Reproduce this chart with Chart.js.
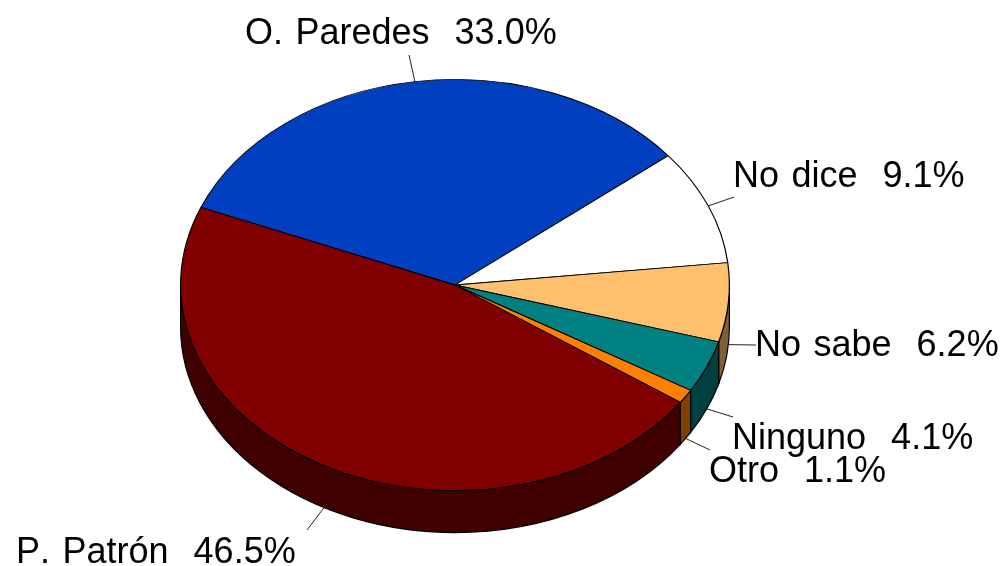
<!DOCTYPE html>
<html>
<head>
<meta charset="utf-8">
<title>Pie</title>
<script src="https://cdn.jsdelivr.net/npm/chart.js@4"></script>
<style>
  html, body { margin: 0; padding: 0; background: #fff; }
  canvas { display: block; }
</style>
</head>
<body>
<canvas id="pie" width="1004" height="566"></canvas>
<script>
// values, clockwise from the blue slice
var categories = ['O. Paredes', 'No dice', 'No sabe', 'Ninguno', 'Otro', 'P. Patrón'];
var shares = [33.0, 9.1, 6.2, 4.1, 1.1, 46.5];
var topColors = ['#0040c0', '#ffffff', '#ffc06e', '#008080', '#ff8000', '#800000'];
var wallColors = ['#002060', '#808080', '#806037', '#004040', '#804000', '#400000'];

// label layout: end of leader and text anchor (left, baseline), in page pixels
var leaderEnds = [[409, 55], [734, 197], [756, 345], [733, 417], [710, 450], [307, 530]];
var textAnchors = [[245, 44], [733, 187], [755, 356], [732, 449], [709, 482], [16, 563]];

var SQUASH = 0.749;  // ellipse height / width
var DEPTH = 42;      // wall height

// walls under the top face, only the front half of the pie shows them
var wallsPlugin = {
  id: 'walls',
  beforeDatasetsDraw: function (chart) {
    var ctx = chart.ctx;
    chart.getDatasetMeta(0).data.forEach(function (arc, i) {
      var a0 = Math.max(arc.startAngle, 0);
      var a1 = Math.min(arc.endAngle, Math.PI);
      if (a1 <= a0) return;
      var r = arc.outerRadius;
      ctx.beginPath();
      ctx.ellipse(arc.x, arc.y, r, r * SQUASH, 0, a0, a1);
      ctx.ellipse(arc.x, arc.y + DEPTH, r, r * SQUASH, 0, a1, a0, true);
      ctx.closePath();
      ctx.fillStyle = wallColors[i];
      ctx.fill();
      ctx.lineWidth = 1.2;
      ctx.strokeStyle = '#000';
      ctx.stroke();
    });
    // squash the library's own arcs into an ellipse
    var first = chart.getDatasetMeta(0).data[0];
    ctx.save();
    ctx.translate(first.x, first.y);
    ctx.scale(1, SQUASH);
    ctx.translate(-first.x, -first.y);
  },
  afterDatasetsDraw: function (chart) {
    chart.ctx.restore();
  }
};

var labelsPlugin = {
  id: 'pieLabels',
  afterDraw: function (chart) {
    var ctx = chart.ctx;
    ctx.save();
    chart.getDatasetMeta(0).data.forEach(function (arc, i) {
      var mid = (arc.startAngle + arc.endAngle) / 2;
      var sy = Math.sin(mid);
      var px = arc.x + arc.outerRadius * Math.cos(mid);
      var py = arc.y + arc.outerRadius * SQUASH * sy + (sy > 0 ? DEPTH : 0);
      ctx.beginPath();
      ctx.moveTo(px, py);
      ctx.lineTo(leaderEnds[i][0], leaderEnds[i][1]);
      ctx.lineWidth = 1;
      ctx.strokeStyle = '#222';
      ctx.stroke();

      ctx.font = '36px "Liberation Sans", Arial, sans-serif';
      ctx.wordSpacing = '2.5px';
      ctx.fontKerning = 'none';
      ctx.fillStyle = '#000';
      ctx.textAlign = 'left';
      ctx.textBaseline = 'alphabetic';
      ctx.fillText(categories[i] + '  ' + shares[i].toFixed(1) + '%', textAnchors[i][0], textAnchors[i][1]);
    });
    ctx.restore();
  }
};

new Chart(document.getElementById('pie').getContext('2d'), {
  type: 'pie',
  data: {
    labels: categories,
    datasets: [{
      data: shares,
      backgroundColor: topColors,
      borderColor: '#000',
      borderWidth: 1.2
    }]
  },
  options: {
    responsive: false,
    animation: false,
    events: [],
    rotation: -67.8,
    layout: { padding: { left: 180, right: 274, top: 10, bottom: 6 } },
    plugins: {
      legend: { display: false },
      tooltip: { enabled: false }
    }
  },
  plugins: [wallsPlugin, labelsPlugin]
});
</script>
</body>
</html>
